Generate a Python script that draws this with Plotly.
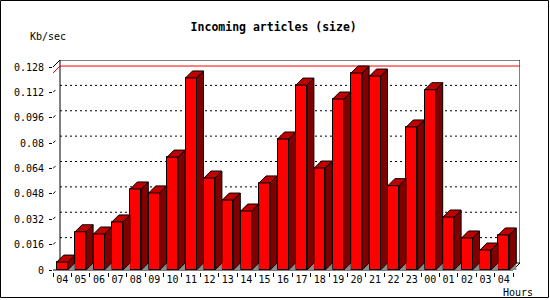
import plotly.graph_objects as go

# ---- data ----
hours = ["04", "05", "06", "07", "08", "09", "10", "11", "12", "13", "14", "15", "16",
         "17", "18", "19", "20", "21", "22", "23", "00", "01", "02", "03", "04"]
kb_per_sec = [0.0050, 0.0241, 0.0227, 0.0303, 0.0511, 0.0486, 0.0712, 0.1211, 0.0580,
              0.0441, 0.0372, 0.0549, 0.0826, 0.1166, 0.0643, 0.1078, 0.1242, 0.1223,
              0.0532, 0.0902, 0.1137, 0.0334, 0.0202, 0.0126, 0.0221]
y_ticks = [0, 0.016, 0.032, 0.048, 0.064, 0.080, 0.096, 0.112, 0.128]
y_ticktext = ["0", "0.016", "0.032", "0.048", "0.064", "0.08", "0.096", "0.112", "0.128"]
y_max = 0.128

# ---- geometry / style ----
FONT = "DejaVu Sans Mono"
PITCH = 18.4          # px per category
SCALE = 203 / y_max   # px per value unit
DEPTH = 7             # px of 3D depth
ML, MT = 53, 60
N = len(hours)
W = N * PITCH + DEPTH
H = 2 + y_max * SCALE + DEPTH
MR = 550 - ML - W
MB = 300 - MT - H
DX = DEPTH / PITCH
DY = DEPTH / SCALE
BW = 11 / PITCH

FRONT = "#ff0000"
SIDE = "#800000"
TOP = "#c00000"
SHADOW = "#8c8c8c"

xs = list(range(N))

fig = go.Figure()

# front faces
fig.add_trace(go.Bar(x=xs, y=kb_per_sec, width=BW, marker=dict(color=FRONT, line=dict(color="black", width=1)),
                     hoverinfo="skip"))

shx, shy, sdx, sdy, tpx, tpy = [], [], [], [], [], []
for i, v in zip(xs, kb_per_sec):
    xl, xr = i - BW / 2, i + BW / 2
    shx += [xr, xr + DX, xr + DX, xr, None]
    shy += [0, DY, 0, 0, None]
    sdx += [xr, xr + DX, xr + DX, xr, xr, None]
    sdy += [0, DY, v + DY, v, 0, None]
    tpx += [xl, xl + DX, xr + DX, xr, xl, None]
    tpy += [v, v + DY, v + DY, v, v, None]

fig.add_trace(go.Scatter(x=shx, y=shy, mode="lines", fill="toself", fillcolor=SHADOW,
                         line=dict(width=0, color=SHADOW), hoverinfo="skip"))
fig.add_trace(go.Scatter(x=sdx, y=sdy, mode="lines", fill="toself", fillcolor=SIDE,
                         line=dict(width=1, color="black"), hoverinfo="skip"))
fig.add_trace(go.Scatter(x=tpx, y=tpy, mode="lines", fill="toself", fillcolor=TOP,
                         line=dict(width=1, color="black"), hoverinfo="skip"))

shapes = []
x0, x1 = -0.5, N - 0.5
# dotted gridlines on back wall
for t in y_ticks[1:-1]:
    shapes.append(dict(type="line", xref="x", yref="y", x0=x0 + DX, x1=x1 + DX, y0=t + DY, y1=t + DY,
                       line=dict(color="black", width=1, dash="2px,3px"), layer="below"))
    shapes.append(dict(type="line", xref="x", yref="y", x0=x0, x1=x0 + DX * 0.35, y0=t, y1=t + DY * 0.35,
                       line=dict(color="black", width=1), layer="below"))
# back wall frame
shapes.append(dict(type="path", xref="x", yref="y",
                   path=f"M {x0} {y_max} L {x0+DX} {y_max+DY} L {x1+DX} {y_max+DY} L {x1+DX} {DY} L {x1} 0 L {x0} 0",
                   line=dict(color="black", width=1), layer="below"))
shapes.append(dict(type="line", xref="x", yref="y", x0=x0 + DX, x1=x0 + DX, y0=DY, y1=y_max + DY,
                   line=dict(color="black", width=1), layer="below"))
shapes.append(dict(type="line", xref="x", yref="y", x0=x0 + DX, x1=x1 + DX, y0=DY, y1=DY,
                   line=dict(color="black", width=1), layer="below"))
# red max line
vmax = max(kb_per_sec)
shapes.append(dict(type="path", xref="x", yref="y",
                   path=f"M {x0} {vmax} L {x0+DX} {vmax+DY} L {x1+DX} {vmax+DY}",
                   line=dict(color="red", width=1), layer="below"))
# outer frame
shapes.append(dict(type="rect", xref="paper", yref="paper",
                   x0=(0.5 - ML) / W, x1=(548.5 - ML) / W, y0=(MT + H - 297.5) / H, y1=(MT + H - 0.5) / H,
                   line=dict(color="black", width=1)))

fig.update_layout(
    width=550, height=300,
    margin=dict(l=ML, r=MR, t=MT, b=MB, pad=0),
    paper_bgcolor="white", plot_bgcolor="white",
    showlegend=False,
    bargap=0,
    shapes=shapes,
    title=dict(text="<b>Incoming articles (size)</b>", x=273.7 / 550, y=1 - 26.7 / 300,
               xanchor="center", yanchor="middle", font=dict(family=FONT, size=11.5, color="black")),
    xaxis=dict(range=[x0, x1 + DX], tickvals=xs, ticktext=hours, ticks="", showgrid=False,
               zeroline=False, showline=False, fixedrange=True,
               tickfont=dict(family=FONT, size=10, color="black"),
               minor=dict(tickmode="array", tickvals=[i - 0.5 for i in range(N + 1)], ticks="outside",
                          ticklen=4, tickcolor="black", tickwidth=1, showgrid=False)),
    yaxis=dict(range=[-2 / SCALE, y_max + DY], tickvals=y_ticks, ticktext=y_ticktext, ticks="outside",
               ticklen=3, tickcolor="black", showgrid=False, zeroline=False, showline=False,
               fixedrange=True, tickfont=dict(family=FONT, size=10, color="black"),
               ticklabelstandoff=3),
    annotations=[
        dict(text="Kb/sec", xref="paper", yref="paper", x=(28 - ML) / W, y=(MT + H - 36.7) / H,
             xanchor="left", yanchor="middle", showarrow=False,
             font=dict(family=FONT, size=10, color="black")),
        dict(text="Hours", xref="paper", yref="paper", x=(535 - ML) / W, y=(MT + H - 292) / H,
             xanchor="right", yanchor="middle", showarrow=False,
             font=dict(family=FONT, size=10, color="black")),
    ],
)

fig.write_html("out.html", config={"displayModeBar": False})
